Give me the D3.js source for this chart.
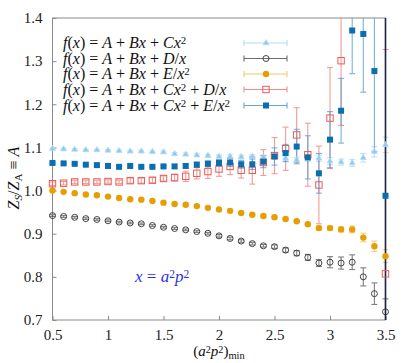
<!DOCTYPE html>
<html>
<head>
<meta charset="utf-8">
<script src="https://cdn.jsdelivr.net/npm/d3@7"></script>
<style>
  body { margin: 0; background: #fff; }
  svg text { font-family: "Liberation Serif", "Times New Roman", Times, serif; }
</style>
</head>
<body>
<svg id="chart"></svg>
<script>
// x values (a^2 p^2)_min
var xVals = [0.5,0.6,0.7,0.8,0.9,1.0,1.1,1.2,1.3,1.4,1.5,1.6,1.7,1.8,1.9,2.0,
             2.1,2.2,2.3,2.4,2.5,2.6,2.7,2.8,2.9,3.0,3.1,3.2,3.3,3.4,3.5];

// f(x) = A + Bx + Cx^2
var triVal = [1.097,1.096,1.095,1.094,1.094,1.093,1.092,1.091,1.091,1.090,1.089,1.085,1.084,1.082,1.081,1.079,
              1.079,1.078,1.079,1.078,1.078,1.075,1.071,1.074,1.075,1.068,1.066,1.064,1.076,1.090,1.106];
var triErr = [0.002,0.002,0.002,0.002,0.002,0.002,0.002,0.002,0.002,0.002,0.003,0.003,0.003,0.003,0.003,0.003,
              0.004,0.004,0.004,0.004,0.004,0.006,0.006,0.006,0.007,0.008,0.007,0.008,0.010,0.012,0.018];

// f(x) = A + Bx + D/x
var circVal = [0.942,0.940,0.938,0.935,0.933,0.930,0.927,0.925,0.923,0.919,0.915,0.912,0.909,0.905,0.901,0.895,
               0.889,0.883,0.877,0.872,0.870,0.862,0.855,0.845,0.832,0.834,0.832,0.834,0.800,0.761,0.719];
var circErr = [0.002,0.002,0.002,0.002,0.002,0.002,0.002,0.002,0.002,0.002,0.002,0.002,0.002,0.002,0.002,0.003,
               0.003,0.003,0.003,0.003,0.004,0.005,0.006,0.007,0.008,0.013,0.014,0.017,0.021,0.025,0.030];

// f(x) = A + Bx + E/x^2
var orVal = [1.000,0.997,0.994,0.991,0.989,0.986,0.983,0.980,0.979,0.976,0.972,0.969,0.967,0.964,0.960,0.956,
             0.953,0.948,0.944,0.941,0.938,0.934,0.929,0.922,0.913,0.913,0.910,0.910,0.891,0.871,0.848];
var orErr = [0.001,0.001,0.001,0.001,0.001,0.001,0.001,0.001,0.001,0.001,0.001,0.002,0.002,0.002,0.002,0.002,
             0.002,0.002,0.002,0.002,0.002,0.002,0.003,0.003,0.005,0.005,0.006,0.008,0.010,0.012,0.015];

// f(x) = A + Bx + Cx^2 + D/x
var redVal = [1.016,1.017,1.020,1.020,1.020,1.021,1.020,1.023,1.023,1.024,1.028,1.030,1.033,1.040,1.044,1.050,
              1.056,1.047,1.047,1.065,1.081,1.097,1.129,1.083,1.013,1.168,1.301,null,null,null,0.807];
var redErr = [0.004,0.004,0.004,0.004,0.004,0.004,0.004,0.006,0.006,0.006,0.006,0.008,0.012,0.013,0.016,0.017,
              0.019,0.018,0.032,0.030,0.042,0.050,0.063,0.073,0.090,0.117,0.150,null,null,null,0.520];

// f(x) = A + Bx + Cx^2 + E/x^2
var bluVal = [1.064,1.063,1.062,1.060,1.059,1.057,1.055,1.057,1.055,1.055,1.056,1.056,1.057,1.060,1.062,1.064,
              1.065,1.061,1.061,1.067,1.079,1.087,1.102,1.077,1.040,1.118,1.185,1.371,1.363,1.277,0.988];
var bluErr = [0.002,0.002,0.002,0.002,0.002,0.002,0.002,0.002,0.002,0.002,0.003,0.004,0.005,0.006,0.007,0.008,
              0.009,0.009,0.012,0.014,0.020,0.020,0.040,0.050,0.046,0.065,0.075,0.100,0.135,0.186,0.600];

var xTicks = [0.5,1,1.5,2,2.5,3,3.5];
var yTicks = [0.7,0.8,0.9,1.0,1.1,1.2,1.3,1.4];

var serif = '"Liberation Serif", "Times New Roman", Times, serif';

var width = 415, height = 363;
var margin = {top: 18, right: 29.5, bottom: 43, left: 52.5};
var w = width - margin.left - margin.right;
var h = height - margin.top - margin.bottom;

var svg = d3.select('#chart').attr('width', width).attr('height', height)
  .attr('font-family', serif);

var x = d3.scaleLinear().domain([0.5, 3.5]).range([0, w]);
var y = d3.scaleLinear().domain([0.7, 1.4]).range([h, 0]);

var g = svg.append('g').attr('transform', 'translate(' + margin.left + ',' + margin.top + ')');

svg.append('defs').append('clipPath').attr('id', 'clip')
  .append('rect').attr('x', -6).attr('y', 0).attr('width', w + 12).attr('height', h);

// frame
g.append('rect').attr('width', w).attr('height', h)
  .attr('fill', 'none').attr('stroke', '#8a8a8a').attr('stroke-width', 1);

var xAxis = d3.axisBottom(x).tickValues(xTicks).tickSizeInner(-4).tickSizeOuter(0).tickPadding(9)
  .tickFormat(function(d){ return d3.format('')(d); });
var yAxis = d3.axisLeft(y).tickValues(yTicks).tickSizeInner(-4).tickSizeOuter(0).tickPadding(10)
  .tickFormat(d3.format('.1f'));

var gx = g.append('g').attr('transform', 'translate(0,' + h + ')').call(xAxis);
var gy = g.append('g').call(yAxis);
[gx, gy].forEach(function(a){
  a.attr('font-family', serif).attr('font-size', 15);
  a.select('.domain').remove();
  a.selectAll('line').attr('stroke', '#8a8a8a');
  a.selectAll('text').attr('fill', '#222');
});

var series = [
  {val: triVal,  err: triErr,  color: '#8ccbef', ecol: '#a9d8f3', shape: 'tri'},
  {val: circVal, err: circErr, color: '#333333', ecol: '#555555', shape: 'circ'},
  {val: orVal,   err: orErr,   color: '#e69f00', ecol: '#f0c050', shape: 'dot'},
  {val: redVal,  err: redErr,  color: '#ee5a55', ecol: '#f07a75', shape: 'osq'},
  {val: bluVal,  err: bluErr,  color: '#0a6fb0', ecol: '#4a9ad0', shape: 'sq'}
];

function drawMarker(sel, s) {
  if (s.shape === 'tri') {
    sel.append('path').attr('d', d3.symbol(d3.symbolTriangle, 15)())
      .attr('fill', s.color).attr('stroke', '#b5dcf3').attr('stroke-width', 0.8);
  } else if (s.shape === 'circ') {
    sel.append('circle').attr('r', 3).attr('fill', 'none').attr('stroke', s.color).attr('stroke-width', 0.9);
  } else if (s.shape === 'dot') {
    sel.append('circle').attr('r', 3.2).attr('fill', s.color);
  } else if (s.shape === 'osq') {
    sel.append('rect').attr('x', -3.2).attr('y', -3.2).attr('width', 6.4).attr('height', 6.4)
      .attr('fill', 'none').attr('stroke', s.color).attr('stroke-width', 1);
  } else {
    sel.append('rect').attr('x', -3).attr('y', -3).attr('width', 6).attr('height', 6).attr('fill', s.color);
  }
}

var plot = g.append('g').attr('clip-path', 'url(#clip)');

function points(s) {
  return xVals.map(function(xv, i){ return {x: xv, v: s.val[i], e: s.err[i]}; })
              .filter(function(d){ return d.v !== null; });
}

// error bars first
series.forEach(function(s) {
  var eb = plot.append('g').attr('stroke', s.ecol).attr('stroke-width', 1.1).attr('opacity', 0.75);
  points(s).forEach(function(d) {
    var y0 = y(d.v - d.e), y1 = y(d.v + d.e);
    eb.append('line').attr('x1', x(d.x)).attr('x2', x(d.x)).attr('y1', y0).attr('y2', y1);
    eb.append('line').attr('x1', x(d.x) - 3).attr('x2', x(d.x) + 3).attr('y1', y0).attr('y2', y0);
    eb.append('line').attr('x1', x(d.x) - 3).attr('x2', x(d.x) + 3).attr('y1', y1).attr('y2', y1);
  });
});

// right edge line (heavily overlapped error bars at x = 3.5)
plot.append('line').attr('x1', x(3.5)).attr('x2', x(3.5)).attr('y1', 0).attr('y2', h)
  .attr('stroke', '#1e2542').attr('stroke-width', 1.6);

// markers on top
series.forEach(function(s) {
  points(s).forEach(function(d) {
    var m = plot.append('g').attr('transform', 'translate(' + x(d.x) + ',' + y(d.v) + ')');
    drawMarker(m, s);
  });
});

// legend
var legendRows = [
  [['f',1],['(',0],['x',1],[')',0],[' = ',0],['A',1],[' + ',0],['Bx',1],[' + ',0],['Cx',1],['2',0,'sup']],
  [['f',1],['(',0],['x',1],[')',0],[' = ',0],['A',1],[' + ',0],['Bx',1],[' + ',0],['D',1],['/',0],['x',1]],
  [['f',1],['(',0],['x',1],[')',0],[' = ',0],['A',1],[' + ',0],['Bx',1],[' + ',0],['E',1],['/',0],['x',1],['2',0,'sup']],
  [['f',1],['(',0],['x',1],[')',0],[' = ',0],['A',1],[' + ',0],['Bx',1],[' + ',0],['Cx',1],['2',0,'sup'],[' + ',0],['D',1],['/',0],['x',1]],
  [['f',1],['(',0],['x',1],[')',0],[' = ',0],['A',1],[' + ',0],['Bx',1],[' + ',0],['Cx',1],['2',0,'sup'],[' + ',0],['E',1],['/',0],['x',1],['2',0,'sup']]
];

function mathText(sel, parts, size) {
  var t = sel.append('text').attr('font-size', size).attr('font-family', serif)
    .attr('xml:space', 'preserve');
  parts.forEach(function(p) {
    var ts = t.append('tspan').text(p[0]).attr('font-style', p[1] ? 'italic' : 'normal');
    if (p[2] === 'sup') { ts.attr('baseline-shift', '35%').attr('font-size', size * 0.68); }
    if (p[2] === 'sub') { ts.attr('baseline-shift', '-25%').attr('font-size', size * 0.7); }
  });
  return t;
}

var legY = [43, 58.5, 74, 89.5, 105.5];
series.forEach(function(s, i) {
  var ly = legY[i];
  mathText(svg, legendRows[i], 16).attr('x', 63).attr('y', ly + 5).attr('fill', '#111');
  var lg = svg.append('g').attr('stroke', s.ecol).attr('stroke-width', 1.1).attr('opacity', 0.85);
  lg.append('line').attr('x1', 244).attr('x2', 287).attr('y1', ly).attr('y2', ly);
  lg.append('line').attr('x1', 244).attr('x2', 244).attr('y1', ly - 3).attr('y2', ly + 3);
  lg.append('line').attr('x1', 287).attr('x2', 287).attr('y1', ly - 3).attr('y2', ly + 3);
  drawMarker(svg.append('g').attr('transform', 'translate(266,' + ly + ')'), s);
});

// annotation
mathText(svg, [['x',1],[' = ',0],['a',1],['2',0,'sup'],['p',1],['2',0,'sup']], 17)
  .attr('x', 135).attr('y', 282).attr('fill', '#2f2ff0');

// axis labels
mathText(svg, [['(',0],['a',1],['2',0,'sup'],['p',1],['2',0,'sup'],[')',0],['min',0,'sub']], 15)
  .attr('x', 219).attr('y', 356).attr('text-anchor', 'middle').attr('fill', '#111');

mathText(svg, [['Z',1],['S',1,'sub'],['/',0],['Z',1],['A',0,'sub'],[' \u2261 ',0],['A',1]], 16)
  .attr('transform', 'translate(19,178) rotate(-90)').attr('text-anchor', 'middle').attr('fill', '#111');
</script>
</body>
</html>
